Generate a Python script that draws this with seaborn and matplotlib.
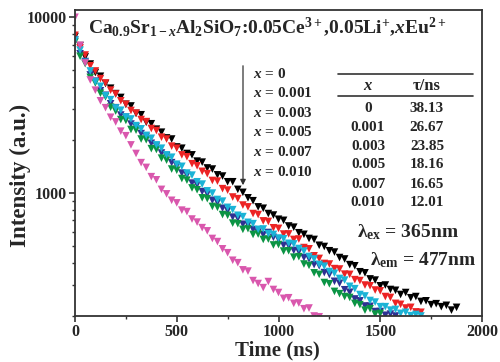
import matplotlib
matplotlib.use("Agg")
import pandas as pd
import seaborn as sns
import matplotlib.pyplot as plt
from matplotlib.lines import Line2D
from matplotlib.ticker import FixedLocator, LogLocator, MultipleLocator, NullFormatter, FuncFormatter

# decay data (time step 25 ns)
time_ns = [0, 25, 50, 75, 100, 125, 150, 175, 200, 225, 250, 275, 300, 325, 350, 375,
           400, 425, 450, 475, 500, 525, 550, 575, 600, 625, 650, 675, 700, 725, 750, 775,
           800, 825, 850, 875, 900, 925, 950, 975, 1000, 1025, 1050, 1075, 1100, 1125, 1150, 1175,
           1200, 1225, 1250, 1275, 1300, 1325, 1350, 1375, 1400, 1425, 1450, 1475, 1500, 1525, 1550, 1575,
           1600, 1625, 1650, 1675, 1700, 1725, 1750, 1775, 1800, 1825, 1850, 1875]

x_000 = [7760, 6900, 5950, 5420, 4850, 4620, 4200, 3950, 3680, 3500, 3200, 3130, 2840, 2790, 2530, 2480,
         2310, 2220, 2060, 2030, 1830, 1800, 1680, 1650, 1520, 1500, 1390, 1370, 1270, 1250, 1160, 1160,
         1050, 1010, 940, 905, 835, 820, 765, 750, 710, 700, 650, 640, 595, 583, 552, 545,
         505, 497, 470, 462, 430, 422, 392, 386, 357, 352, 325, 320, 297, 300, 283, 280,
         265, 272, 254, 258, 242, 244, 232, 235, 226, 230, 216, 224]
x_001 = [7900, 6700, 6100, 5300, 4950, 4480, 4230, 3850, 3660, 3350, 3200, 2950, 2850, 2620, 2550, 2330,
         2270, 2080, 2030, 1850, 1800, 1650, 1610, 1470, 1430, 1330, 1290, 1180, 1170, 1060, 1040, 950,
         930, 855, 835, 765, 755, 695, 690, 635, 630, 585, 586, 545, 548, 490, 482, 440,
         425, 398, 395, 372, 370, 346, 345, 322, 318, 300, 297, 281, 278, 258, 255, 236,
         233, 222, 224, 211, 210]
x_003 = [7410, 6200, 5600, 4700, 4330, 3820, 3600, 3220, 3060, 2780, 2700, 2470, 2380, 2180, 2100, 1920,
         1850, 1690, 1630, 1490, 1430, 1300, 1265, 1140, 1115, 1020, 990, 910, 885, 820, 795, 730,
         718, 665, 660, 620, 600, 580, 597, 560, 545, 505, 502, 472, 464, 430, 423, 392,
         386, 353, 344, 315, 307, 282, 273, 250, 244, 228, 227, 212, 212, 202, 205, 200]
x_005 = [7240, 6000, 5450, 4550, 4230, 3700, 3530, 3080, 2930, 2620, 2590, 2300, 2280, 2030, 2010, 1790,
         1770, 1580, 1540, 1370, 1350, 1210, 1185, 1070, 1045, 940, 930, 840, 830, 755, 748, 675,
         670, 622, 628, 582, 585, 545, 548, 507, 510, 468, 470, 432, 435, 395, 388, 352,
         345, 310, 305, 276, 268, 258, 255, 236, 232, 216, 220, 205, 207]
x_007 = [7410, 6500, 5550, 4950, 4300, 4050, 3580, 3400, 3050, 2960, 2710, 2640, 2420, 2320, 2130, 2050,
         1880, 1800, 1650, 1600, 1460, 1420, 1300, 1265, 1160, 1125, 1030, 1000, 920, 900, 830, 805,
         748, 735, 682, 670, 622, 625, 588, 582, 555, 550, 518, 514, 484, 468, 436, 422,
         393, 384, 358, 350, 327, 320, 295, 286, 265, 260, 245, 240, 226, 226, 216, 218,
         207, 210, 201, 204, 200]
x_010 = [10000, 6920, 5500, 4400, 3850, 3350, 3060, 2700, 2540, 2250, 2120, 1880, 1680, 1490, 1400, 1240,
         1190, 1050, 990, 910, 880, 800, 785, 712, 684, 636, 610, 552, 530, 482, 458, 415,
         402, 366, 360, 318, 306, 290, 314, 283, 272, 252, 254, 236, 237, 220, 222, 200, 198]

samples = ["0", "0.001", "0.003", "0.005", "0.007", "0.010"]
tau_ns = ["38.13", "26.67", "23.85", "18.16", "16.65", "12.01"]
colors = {"0": "black", "0.001": "#ec2324", "0.003": "#2e3192", "0.005": "#0b9444",
          "0.007": "#1bb3d6", "0.010": "#d957ad"}

series = [x_000, x_001, x_003, x_005, x_007, x_010]
frames = []
for lab, vals in zip(samples, series):
    frames.append(pd.DataFrame({"time": time_ns[:len(vals)], "intensity": vals, "sample": lab}))
df = pd.concat(frames, ignore_index=True)

sns.set_style("ticks")
plt.rcParams["font.family"] = ["Liberation Serif", "DejaVu Serif"]
plt.rcParams["font.weight"] = "bold"
plt.rcParams["mathtext.fontset"] = "custom"
plt.rcParams["mathtext.rm"] = "Liberation Serif:bold"
plt.rcParams["mathtext.bf"] = "Liberation Serif:bold"
plt.rcParams["mathtext.it"] = "Liberation Serif:italic:bold"

W, H = 500, 362
fig = plt.figure(figsize=(W / 100, H / 100), dpi=100)
ax = fig.add_axes([75 / W, 1 - 316 / H, 407 / W, 306 / H])

sns.scatterplot(data=df, x="time", y="intensity", hue="sample", palette=colors,
                marker="v", s=30, linewidth=0, legend=False, ax=ax)

ax.set_yscale("log")
ax.set_xlim(0, 2000)
ax.set_ylim(200, 11000)
ax.yaxis.set_major_locator(FixedLocator([1000, 10000]))
ax.yaxis.set_major_formatter(FuncFormatter(lambda v, p: f"{int(v)}"))
ax.yaxis.set_minor_locator(LogLocator(base=10, subs=range(2, 10)))
ax.yaxis.set_minor_formatter(NullFormatter())
ax.xaxis.set_major_locator(MultipleLocator(500))
ax.xaxis.set_minor_locator(MultipleLocator(250))
ax.set_xlabel("")
ax.set_ylabel("")
for sp in ax.spines.values():
    sp.set_linewidth(1.3)
    sp.set_color("#333333")
ax.tick_params(which="major", direction="out", length=4, width=1.2, labelsize=11.5, color="#333333")
ax.tick_params(axis="x", which="major", pad=1.5)
ax.tick_params(axis="y", which="major", pad=2)
ax.tick_params(which="minor", direction="out", length=2.5, width=1.0, color="#333333")
for lbl in ax.get_xticklabels() + ax.get_yticklabels():
    lbl.set_fontweight("bold")


def px(x, y):
    return x / W, 1 - y / H


fig.text(*px(20, 175), "Intensity (a.u.)", rotation=90, ha="center", va="center", fontsize=16.5, fontweight="bold")
fig.text(*px(277, 355), "Time (ns)", ha="center", va="baseline", fontsize=15, fontweight="bold")

fig.text(*px(88, 33), r"Ca$_{0.9}$Sr$_{1-x}$Al$_2$SiO$_7$:0.05Ce$^{3+}$,0.05Li$^{+}$,$x$Eu$^{2+}$",
         ha="left", va="baseline", fontsize=14, fontweight="bold")

# sample list with arrow
list_y = [74, 93, 113, 132, 152, 172]
for lab, yy in zip(samples, list_y):
    fig.text(*px(253, yy), r"$x$ = " + lab, ha="left", va="center", fontsize=11, fontweight="bold")
ax.annotate("", xy=px(243, 188), xytext=px(243, 63), xycoords="figure fraction", textcoords="figure fraction",
            arrowprops=dict(arrowstyle="-|>", color="#333333", lw=0.9, mutation_scale=8))

# lifetime table
fig.add_artist(Line2D([338 / W, 473 / W], [1 - 74 / H, 1 - 74 / H], color="#333333", lw=1.2))
fig.add_artist(Line2D([338 / W, 473 / W], [1 - 96 / H, 1 - 96 / H], color="#333333", lw=1.2))
fig.text(*px(368, 86), r"$x$", ha="center", va="center", fontsize=12)
fig.text(*px(427, 86), "τ/ns", ha="center", va="center", fontsize=12, fontweight="bold")
row_y = [108, 127, 146, 165, 184, 203]
for lab, tau, yy in zip(samples, tau_ns, row_y):
    fig.text(*px(368, yy), lab, ha="center", va="center", fontsize=11, fontweight="bold")
    fig.text(*px(427, yy), tau, ha="center", va="center", fontsize=11, fontweight="bold")

fig.text(*px(357, 232), r"λ$_{\rm ex}$ = 365nm", ha="left", va="center", fontsize=14, fontweight="bold")
fig.text(*px(370, 260), r"λ$_{\rm em}$ = 477nm", ha="left", va="center", fontsize=14, fontweight="bold")

fig.savefig("out.png", dpi=100)
